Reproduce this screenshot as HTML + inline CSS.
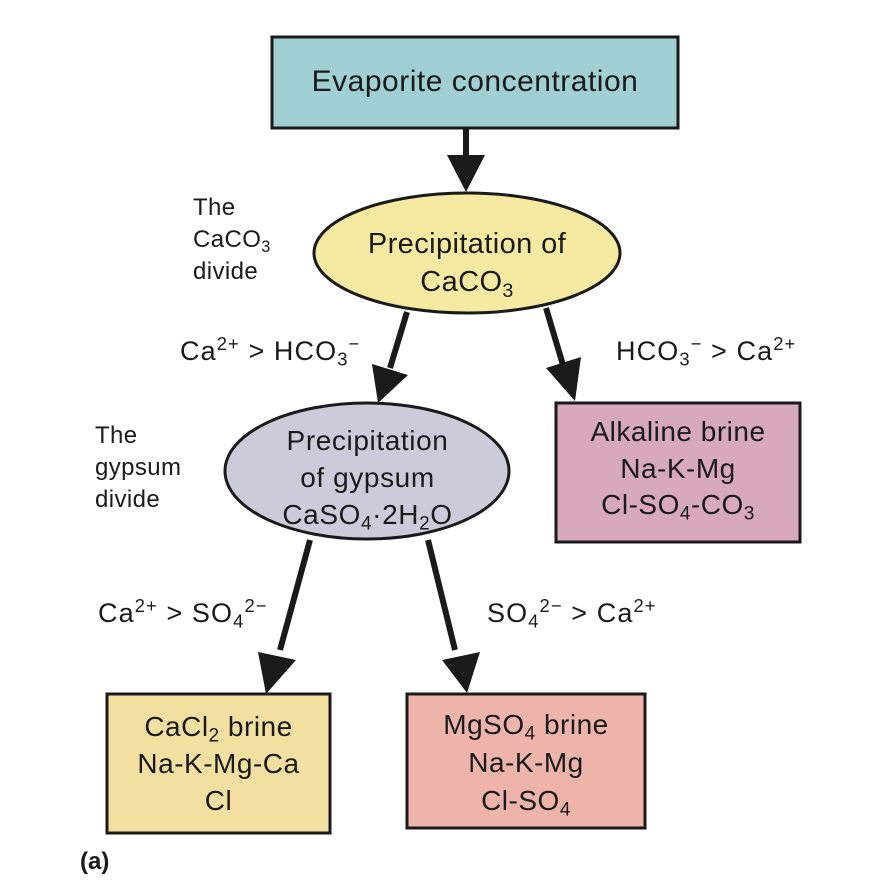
<!DOCTYPE html>
<html><head><meta charset="utf-8"><style>
body{margin:0;background:#fff;}
#c{position:relative;width:874px;height:882px;overflow:hidden;font-family:"Liberation Sans",Arial,sans-serif;color:#1a1a1a;}
.t{position:absolute;white-space:nowrap;}
.c{text-align:center;}
sub,sup{font-size:0.68em;line-height:0;}
sub{vertical-align:-0.3em;}
sup{vertical-align:0.55em;}
</style></head><body><div id="c">
<svg width="874" height="882" style="position:absolute;left:0;top:0">
<rect x="272" y="37" width="406" height="91" fill="#a0d0d4" stroke="#1a1a1a" stroke-width="3"/>
<ellipse cx="467" cy="253" rx="153" ry="60" fill="#f6eaa3" stroke="#1a1a1a" stroke-width="3"/>
<ellipse cx="367" cy="471" rx="142" ry="68" fill="#cccbd9" stroke="#1a1a1a" stroke-width="3"/>
<rect x="556" y="403" width="244" height="139" fill="#d8a8bd" stroke="#1a1a1a" stroke-width="3"/>
<rect x="107" y="694" width="223" height="139" fill="#f3e0a0" stroke="#1a1a1a" stroke-width="3"/>
<rect x="407" y="694" width="238" height="134" fill="#eeb3a9" stroke="#1a1a1a" stroke-width="3"/>
<g stroke="#1a1a1a" stroke-width="6" fill="none">
<line x1="466" y1="128" x2="466" y2="160"/>
<line x1="407" y1="312" x2="390" y2="368"/>
<line x1="546" y1="308" x2="563" y2="365"/>
<line x1="310" y1="540" x2="280" y2="650"/>
<line x1="428" y1="540" x2="455" y2="650"/>
</g>
<g fill="#1a1a1a">
<polygon points="447,155 485,155 466,192"/>
<polygon points="372,364 408,375 378,403"/>
<polygon points="546,368 581,357 575,401"/>
<polygon points="258,652 296,660 266,694"/>
<polygon points="442,660 480,652 467,693"/>
</g>
</svg>
<div class="t c" style="left:252px;width:446px;top:62px;font-size:30px;line-height:40px;letter-spacing:0.5px">Evaporite concentration</div>
<div class="t c" style="left:294px;width:346px;top:225px;font-size:29px;line-height:38px;letter-spacing:0.4px">Precipitation of<br>CaCO<sub>3</sub></div>
<div class="t" style="left:193px;top:192px;font-size:24px;line-height:32px;letter-spacing:0.4px">The<br>CaCO<sub>3</sub><br>divide</div>
<div class="t" style="left:95px;top:420px;font-size:24px;line-height:32px;letter-spacing:0.4px">The<br>gypsum<br>divide</div>
<div class="t c" style="left:205px;width:325px;top:422px;font-size:28px;line-height:37px;letter-spacing:0.6px">Precipitation<br>of gypsum<br>CaSO<sub>4</sub>·2H<sub>2</sub>O</div>
<div class="t c" style="left:536px;width:284px;top:414px;font-size:28px;line-height:36.5px;letter-spacing:0.5px">Alkaline brine<br>Na-K-Mg<br>Cl-SO<sub>4</sub>-CO<sub>3</sub></div>
<div class="t c" style="left:87px;width:263px;top:708px;font-size:28px;line-height:37px;letter-spacing:0.5px">CaCl<sub>2</sub> brine<br>Na-K-Mg-Ca<br>Cl</div>
<div class="t c" style="left:387px;width:278px;top:706px;font-size:28px;line-height:38px;letter-spacing:0.5px">MgSO<sub>4</sub> brine<br>Na-K-Mg<br>Cl-SO<sub>4</sub></div>
<div class="t" style="left:180px;top:335px;font-size:27px;line-height:32px;letter-spacing:1.1px">Ca<sup>2+</sup> &gt; HCO<sub>3</sub><sup>−</sup></div>
<div class="t" style="left:616px;top:335px;font-size:27px;line-height:32px;letter-spacing:1.1px">HCO<sub>3</sub><sup>−</sup> &gt; Ca<sup>2+</sup></div>
<div class="t" style="left:98px;top:597px;font-size:27px;line-height:32px;letter-spacing:1.1px">Ca<sup>2+</sup> &gt; SO<sub>4</sub><sup>2−</sup></div>
<div class="t" style="left:487px;top:597px;font-size:27px;line-height:32px;letter-spacing:1.1px">SO<sub>4</sub><sup>2−</sup> &gt; Ca<sup>2+</sup></div>
<div class="t" style="left:80px;top:848px;font-size:24px;line-height:28px;font-weight:bold">(a)</div>
</div></body></html>
